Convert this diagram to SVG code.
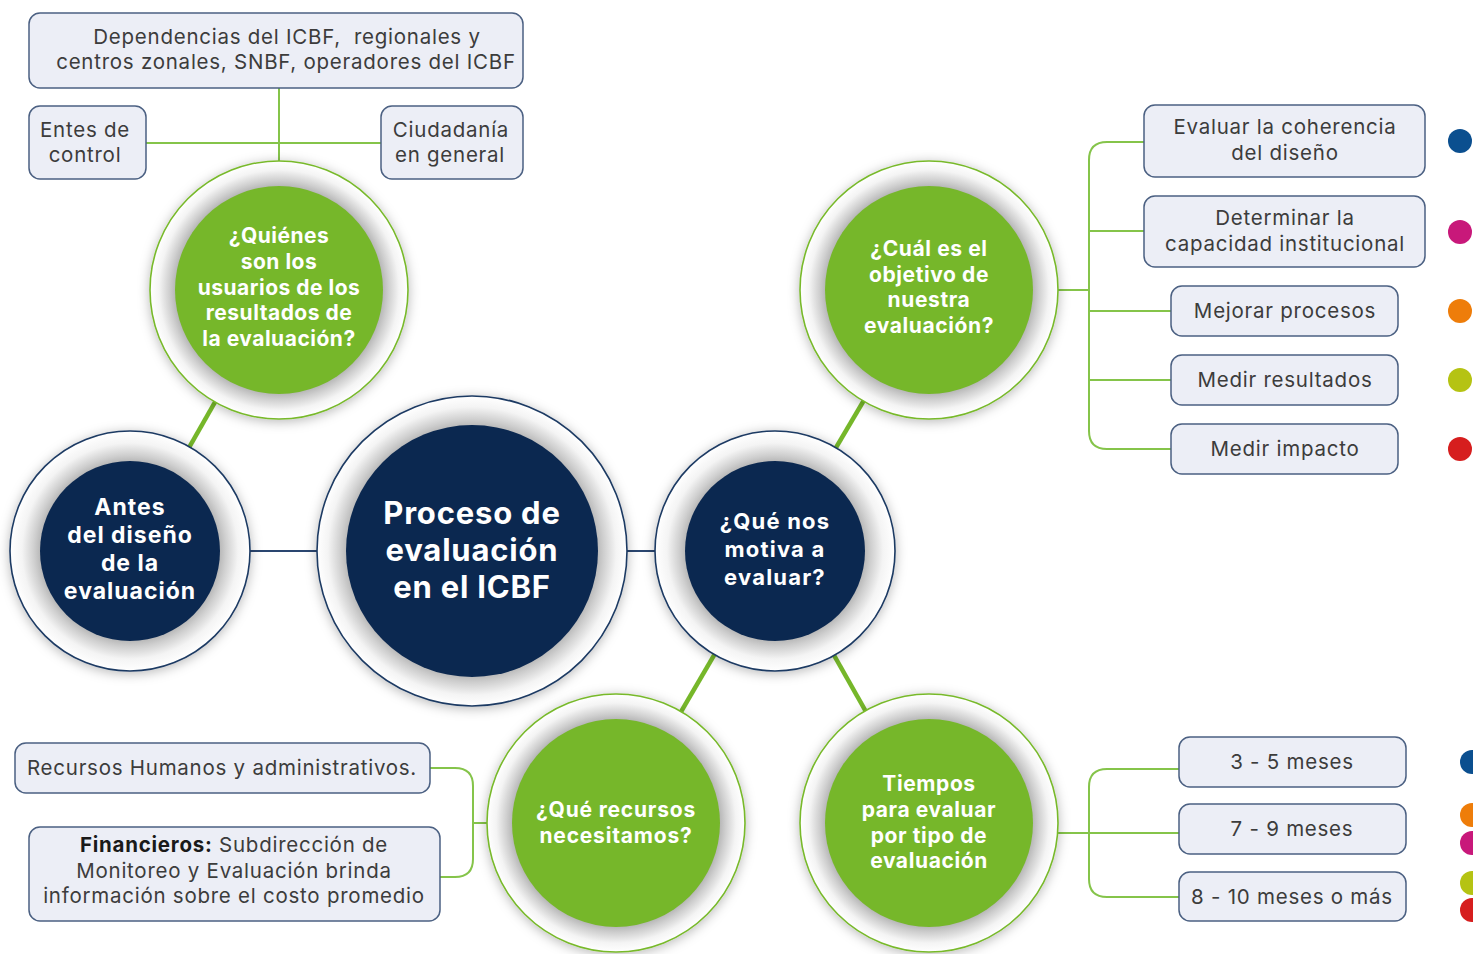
<svg xmlns="http://www.w3.org/2000/svg" width="1473" height="954" viewBox="0 0 1473 954">
<defs>
<style>
.box{fill:#eceef6;stroke:#4b6082;stroke-width:1.5}
.bt{font-family:Inter,"Open Sans","Liberation Sans",sans-serif;font-size:20.5px;letter-spacing:0.75px;fill:#3c3c3c;text-anchor:middle}
.ct{font-family:Inter,"Open Sans","Liberation Sans",sans-serif;font-weight:bold;fill:#ffffff;text-anchor:middle}
.thin{fill:none;stroke:#85c44a;stroke-width:2}
.thick{fill:none;stroke:#76b72a;stroke-width:4.5}
.navyl{fill:none;stroke:#2a4670;stroke-width:1.8}
.ringN{stroke:#1d3a63;stroke-width:1.6}
.ringG{stroke:#78b92b;stroke-width:1.6}
</style>
<radialGradient id="g75" cx="0.5" cy="0.5" r="0.5">
<stop offset="0.74" stop-color="#b5b5b5"/>
<stop offset="0.80" stop-color="#cfcfcf"/>
<stop offset="0.90" stop-color="#f4f4f4"/>
<stop offset="1" stop-color="#ffffff"/>
</radialGradient>
<radialGradient id="g81" cx="0.5" cy="0.5" r="0.5">
<stop offset="0.80" stop-color="#b5b5b5"/>
<stop offset="0.85" stop-color="#cfcfcf"/>
<stop offset="0.93" stop-color="#f4f4f4"/>
<stop offset="1" stop-color="#ffffff"/>
</radialGradient>
<filter id="sh" x="-20%" y="-20%" width="140%" height="140%">
<feDropShadow dx="0" dy="2" stdDeviation="6" flood-color="#000" flood-opacity="0.28"/>
</filter>
</defs>
<rect width="1473" height="954" fill="#ffffff"/>

<g id="connectors">
<line class="thick" x1="130" y1="551" x2="279" y2="290"/>
<line class="thick" x1="775" y1="551" x2="929" y2="290"/>
<line class="thick" x1="775" y1="551" x2="616" y2="823"/>
<line class="thick" x1="775" y1="551" x2="929" y2="823"/>
<line class="navyl" x1="130" y1="551" x2="775" y2="551"/>
<line class="thin" x1="279" y1="88" x2="279" y2="170"/>
<line class="thin" x1="146" y1="143" x2="381" y2="143"/>
<path class="thin" d="M1144 142 H1107 Q1089 142 1089 160 V431 Q1089 449 1107 449 H1171"/>
<path class="thin" d="M1089 231 H1144 M1089 311 H1171 M1089 380 H1171 M1050 290 H1089"/>
<path class="thin" d="M1179 769 H1107 Q1089 769 1089 787 V879 Q1089 897 1107 897 H1179"/>
<path class="thin" d="M1050 833 H1179"/>
<path class="thin" d="M430 768 H455 Q473 768 473 786 V859 Q473 877 455 877 H440"/>
<path class="thin" d="M473 823 H495"/>
</g>

<g id="n-dependencias">
<rect class="box" x="29" y="13" width="494" height="75" rx="11"/>
<text class="bt" x="287" y="44" xml:space="preserve">Dependencias del ICBF,  regionales y</text>
<text class="bt" x="286" y="69">centros zonales, SNBF, operadores del ICBF</text>
</g>
<g id="n-entes">
<rect class="box" x="29" y="106" width="117" height="73" rx="11"/>
<text class="bt" x="85" y="137">Entes de</text>
<text class="bt" x="85" y="162">control</text>
</g>
<g id="n-ciudadania">
<rect class="box" x="381" y="106" width="142" height="73" rx="11"/>
<text class="bt" x="451" y="137">Ciudadanía</text>
<text class="bt" x="450" y="162">en general</text>
</g>

<g id="n-quienes">
<circle cx="279" cy="290" r="129" fill="url(#g81)" class="ringG" filter="url(#sh)"/>
<circle cx="279" cy="290" r="104" fill="#76b72a"/>
<text class="ct" font-size="21" letter-spacing="0.5"><tspan x="279" y="243">¿Quiénes</tspan><tspan x="279" y="269">son los</tspan><tspan x="279" y="295">usuarios de los</tspan><tspan x="279" y="320">resultados de</tspan><tspan x="279" y="346">la evaluación?</tspan></text>
</g>

<g id="n-antes">
<circle cx="130" cy="551" r="120" fill="url(#g75)" class="ringN" filter="url(#sh)"/>
<circle cx="130" cy="551" r="90" fill="#0b2850"/>
<text class="ct" font-size="23" letter-spacing="1"><tspan x="130" y="515">Antes</tspan><tspan x="130" y="543">del diseño</tspan><tspan x="130" y="571">de la</tspan><tspan x="130" y="599">evaluación</tspan></text>
</g>

<g id="n-proceso">
<circle cx="472" cy="551" r="155" fill="url(#g81)" class="ringN" filter="url(#sh)"/>
<circle cx="472" cy="551" r="126" fill="#0b2850"/>
<text class="ct" font-size="31" letter-spacing="0.8"><tspan x="472" y="524">Proceso de</tspan><tspan x="472" y="561">evaluación</tspan><tspan x="472" y="598">en el ICBF</tspan></text>
</g>

<g id="n-motiva">
<circle cx="775" cy="551" r="120" fill="url(#g75)" class="ringN" filter="url(#sh)"/>
<circle cx="775" cy="551" r="90" fill="#0b2850"/>
<text class="ct" font-size="22" letter-spacing="1.2"><tspan x="775" y="529">¿Qué nos</tspan><tspan x="775" y="557">motiva a</tspan><tspan x="775" y="585">evaluar?</tspan></text>
</g>

<g id="n-objetivo">
<circle cx="929" cy="290" r="129" fill="url(#g81)" class="ringG" filter="url(#sh)"/>
<circle cx="929" cy="290" r="104" fill="#76b72a"/>
<text class="ct" font-size="21" letter-spacing="0.6"><tspan x="929" y="256">¿Cuál es el</tspan><tspan x="929" y="282">objetivo de</tspan><tspan x="929" y="307">nuestra</tspan><tspan x="929" y="333">evaluación?</tspan></text>
</g>

<g id="n-recursos">
<circle cx="616" cy="823" r="129" fill="url(#g81)" class="ringG" filter="url(#sh)"/>
<circle cx="616" cy="823" r="104" fill="#76b72a"/>
<text class="ct" font-size="21" letter-spacing="0.8"><tspan x="616" y="817">¿Qué recursos</tspan><tspan x="616" y="843">necesitamos?</tspan></text>
</g>

<g id="n-tiempos">
<circle cx="929" cy="823" r="129" fill="url(#g81)" class="ringG" filter="url(#sh)"/>
<circle cx="929" cy="823" r="104" fill="#76b72a"/>
<text class="ct" font-size="21" letter-spacing="0.6"><tspan x="929" y="791">Tiempos</tspan><tspan x="929" y="817">para evaluar</tspan><tspan x="929" y="843">por tipo de</tspan><tspan x="929" y="868">evaluación</tspan></text>
</g>

<g id="n-coherencia">
<rect class="box" x="1144" y="105" width="281" height="72" rx="11"/>
<text class="bt" x="1285" y="134">Evaluar la coherencia</text>
<text class="bt" x="1285" y="160">del diseño</text>
</g>
<g id="n-capacidad">
<rect class="box" x="1144" y="196" width="281" height="71" rx="11"/>
<text class="bt" x="1285" y="225">Determinar la</text>
<text class="bt" x="1285" y="251">capacidad institucional</text>
</g>
<g id="n-mejorar">
<rect class="box" x="1171" y="286" width="227" height="50" rx="11"/>
<text class="bt" x="1285" y="318">Mejorar procesos</text>
</g>
<g id="n-resultados">
<rect class="box" x="1171" y="355" width="227" height="50" rx="11"/>
<text class="bt" x="1285" y="387">Medir resultados</text>
</g>
<g id="n-impacto">
<rect class="box" x="1171" y="424" width="227" height="50" rx="11"/>
<text class="bt" x="1285" y="456">Medir impacto</text>
</g>
<g id="dots-objetivo">
<circle cx="1460" cy="141" r="12" fill="#0b4f8f"/>
<circle cx="1460" cy="232" r="12" fill="#c8187a"/>
<circle cx="1460" cy="311" r="12" fill="#ee7d0a"/>
<circle cx="1460" cy="380" r="12" fill="#b5c313"/>
<circle cx="1460" cy="449" r="12" fill="#d61e1e"/>
</g>

<g id="n-35">
<rect class="box" x="1179" y="737" width="227" height="50" rx="11"/>
<text class="bt" x="1292" y="769">3 - 5 meses</text>
</g>
<g id="n-79">
<rect class="box" x="1179" y="804" width="227" height="50" rx="11"/>
<text class="bt" x="1292" y="836">7 - 9 meses</text>
</g>
<g id="n-810">
<rect class="box" x="1179" y="872" width="227" height="49" rx="11"/>
<text class="bt" x="1292" y="904">8 - 10 meses o más</text>
</g>
<g id="dots-tiempos">
<circle cx="1472" cy="762" r="12" fill="#0b4f8f"/>
<circle cx="1472" cy="815" r="12" fill="#ee7d0a"/>
<circle cx="1472" cy="843" r="12" fill="#c8187a"/>
<circle cx="1472" cy="883" r="12" fill="#b5c313"/>
<circle cx="1472" cy="910" r="12" fill="#d61e1e"/>
</g>

<g id="n-humanos">
<rect class="box" x="15" y="743" width="415" height="50" rx="11"/>
<text class="bt" x="222" y="775">Recursos Humanos y administrativos.</text>
</g>
<g id="n-financieros">
<rect class="box" x="29" y="827" width="411" height="94" rx="11"/>
<text class="bt" x="234" y="852"><tspan font-weight="bold" fill="#1a1a1a">Financieros:</tspan> Subdirección de</text>
<text class="bt" x="234" y="878">Monitoreo y Evaluación brinda</text>
<text class="bt" x="234" y="903">información sobre el costo promedio</text>
</g>
</svg>
